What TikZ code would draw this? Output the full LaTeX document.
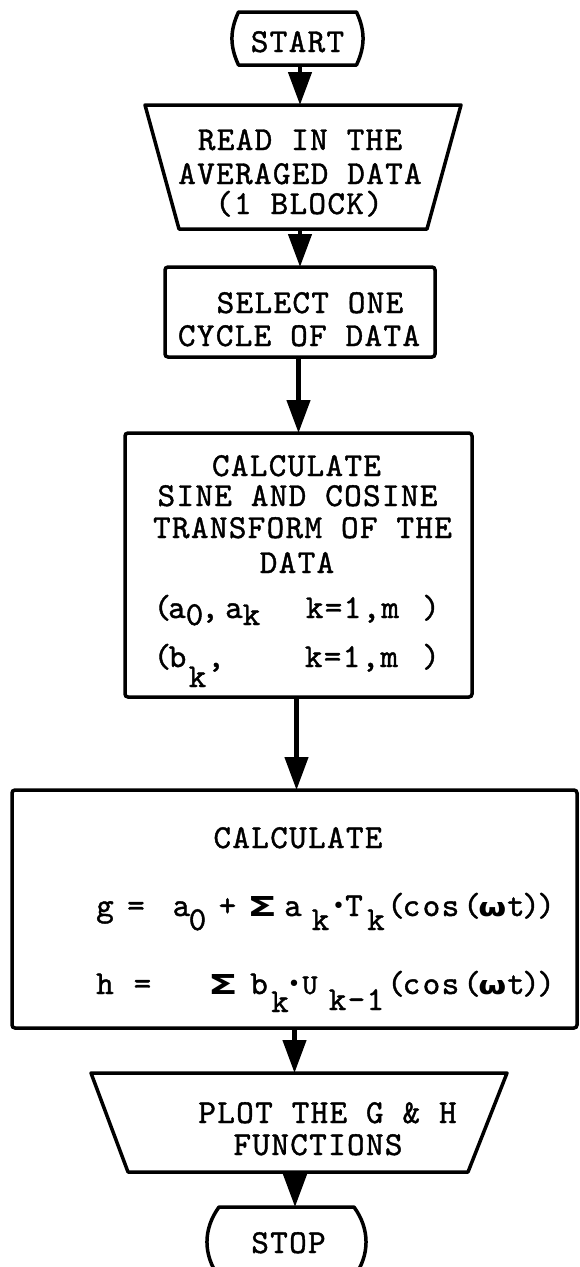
\documentclass[tikz,border=0pt]{standalone}
\usepackage{graphicx}
\usepackage{fontspec}
\newfontfamily\tw{lmmono10-regular.otf}[LetterSpace=4,FakeBold=1.2]
\newfontfamily\gk{DejaVu Sans}
\usetikzlibrary{arrows.meta}
\newcommand\pcc[3][0]{\rlap{\kern#2pt\makebox[0pt][c]{\raisebox{-#1pt}{#3}}}}
\newcommand\sig{\resizebox{30pt}{20pt}{\gk\bfseries Σ}}
\newcommand\om{\resizebox{28pt}{14pt}{\gk\bfseries ω}}
\newcommand\bdot{\raisebox{3pt}{\gk\fontsize{22}{22}\selectfont •}}
\tikzset{
  outline/.style={line width=3.5pt, line join=round, black},
  boxst/.style={draw, line width=3.5pt, rounded corners=3pt},
  arr/.style={line width=4.5pt, -{Triangle[width=23pt,length=33pt]}},
  txt/.style={anchor=base, inner sep=0pt, font=\tw\fontsize{33.5}{36}\selectfont},
}
\begin{document}
\begin{tikzpicture}[x=1pt,y=-1pt, every node/.style={inner sep=0pt, outer sep=0pt}]
\clip (0,0) rectangle (580,1267);
\fill[white] (0,0) rectangle (580,1267);

% START terminal
\node[minimum width=131pt, minimum height=53pt] (start) at (297.5,38.5) {};
\draw[outline] ([xshift=6.5pt]start.north west) -- ([xshift=-6.5pt]start.north east)
  to[bend left=25] ([xshift=-6.5pt]start.south east) -- ([xshift=6.5pt]start.south west)
  to[bend left=25] ([xshift=6.5pt]start.north west) -- cycle;
\node[txt] (tstart) at (297.5,52) {START};

% READ trapezoid
\node[minimum width=316pt, minimum height=124pt] (read) at (303,167) {};
\draw[outline] (read.north west) -- (read.north east) -- ([xshift=-34pt]read.south east)
  -- ([xshift=34pt]read.south west) -- cycle;
\node[txt] (tread1) at (300,150) {READ IN THE};
\node[txt] (tread2) at (300,184) {AVERAGED DATA};
\node[txt] (tread3) at (299,214) {(1 BLOCK)};

% SELECT box
\node[boxst, minimum width=270pt, minimum height=90pt] (select) at (300,312) {};
\node[txt] (tsel1) at (310,313) {SELECT ONE};
\node[txt] (tsel2) at (299,346) {CYCLE OF DATA};

% CALCULATE transform box
\node[boxst, minimum width=347pt, minimum height=264pt] (calc) at (298.5,565) {};
\node[txt] (tcal1) at (296.5,476) {CALCULATE};
\node[txt] (tcal2) at (297.5,506) {SINE AND COSINE};
\node[txt] (tcal3) at (302.5,538) {TRANSFORM OF THE};
\node[txt] (tcal4) at (297,573) {DATA};
\node[txt, anchor=base west] (tcal5) at (150,618)
  {\pcc{12.5}{(}\pcc{27}{a}\pcc[7]{44.5}{0}\pcc{60}{,}\pcc{84}{a}\pcc[7]{101.5}{k}\pcc{202.5}{k=1,m}\pcc{281}{)}\hspace*{285pt}};
\node[txt, anchor=base west] (tcal6) at (150,667)
  {\pcc{12.5}{(}\pcc{27.5}{b}\pcc[20]{47.5}{k}\pcc{66}{,}\pcc{201.5}{k=1,m}\pcc{281}{)}\hspace*{285pt}};

% big CALCULATE box
\node[boxst, minimum width=565pt, minimum height=238pt] (big) at (294.5,909) {};
\node[txt] (tbig1) at (298,848) {CALCULATE};
\node[txt, anchor=base west] (tbig2) at (98,916)
  {\pcc{7}{g}\pcc{38}{=}\pcc{83.5}{a}\pcc[14]{99.5}{0}\pcc{129.5}{+}\pcc{164}{\sig}\pcc{195}{a}\pcc[14]{222.5}{k}\pcc{240.5}{\bdot}\pcc{256}{T}\pcc[14]{278}{k}\pcc{298}{(}\pcc{313.5}{c}\pcc{333.5}{o}\pcc{352.5}{s}\pcc{374}{(}\pcc{394.5}{\om}\pcc{418}{t}\pcc{433}{)}\pcc{448}{)}\hspace*{452pt}};
\node[txt, anchor=base west] (tbig3) at (98,994)
  {\pcc{7}{h}\pcc{44.5}{=}\pcc{125}{\sig}\pcc{161}{b}\pcc[18]{182}{k}\pcc{196}{\bdot}\pcc{212}{\scalebox{0.85}{U}}\pcc[16]{258.5}{k-1}\pcc{298}{(}\pcc{313.5}{c}\pcc{333.5}{o}\pcc{352.5}{s}\pcc{374}{(}\pcc{394.5}{\om}\pcc{418}{t}\pcc{433}{)}\pcc{448}{)}\hspace*{452pt}};

% PLOT trapezoid
\node[minimum width=416pt, minimum height=99pt] (plot) at (299,1122.5) {};
\draw[outline] (plot.north west) -- (plot.north east) -- ([xshift=-39pt]plot.south east)
  -- ([xshift=37pt]plot.south west) -- cycle;
\node[txt] (tplot1) at (327.5,1123) {PLOT THE G \& H};
\node[txt] (tplot2) at (318,1155) {FUNCTIONS};

% STOP terminal
\node[minimum width=160pt, minimum height=70pt] (stop) at (287,1242) {};
\draw[outline] ([xshift=12pt]stop.north west) -- ([xshift=-13pt]stop.north east)
  to[bend left=36] ([xshift=-13pt]stop.south east) -- ([xshift=12pt]stop.south west)
  to[bend left=36] ([xshift=12pt]stop.north west) -- cycle;
\node[txt] (tstop) at (288.5,1253) {STOP};

% connectors
\draw[arr] ([xshift=-3pt]read.north |- start.south) -- ([xshift=-3pt]read.north);
\draw[arr] (select.north |- read.south) -- (select.north);
\draw[arr] (calc.north |- select.south) -- (calc.north);
\draw[arr] ([xshift=-2pt]calc.south) -- ([xshift=-2pt]calc.south |- big.north);
\draw[arr] (big.south) -- (big.south |- plot.north);
\draw[arr] ([xshift=-4pt]plot.south) -- ([xshift=-4pt]plot.south |- stop.north);
\end{tikzpicture}
\end{document}
